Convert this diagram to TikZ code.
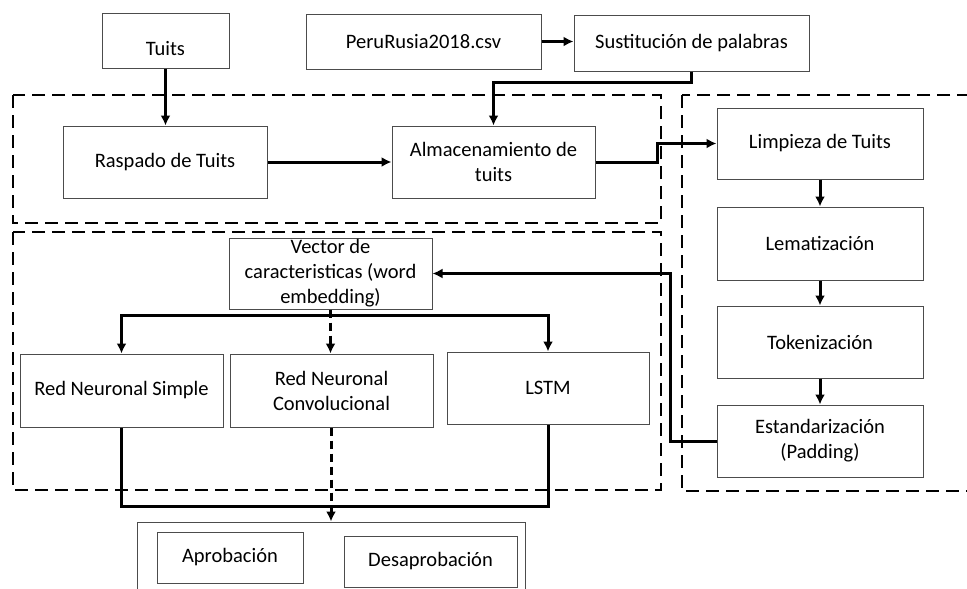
\documentclass[tikz,border=0pt]{standalone}
\usepackage{fontspec}
\setmainfont{Carlito}
\usetikzlibrary{arrows.meta, calc, positioning}

\tikzset{
  box/.style={draw=black!70, line width=1pt, align=center, inner sep=1pt,
    font=\fontsize{20.5}{25}\selectfont},
  flow/.style={line width=3pt, -{Latex[length=10pt,width=10pt]}},
  link/.style={line width=3pt},
  dashlink/.style={line width=3pt, dash pattern=on 8pt off 5pt},
  zone/.style={line width=2pt, dash pattern=on 13pt off 7pt},
}

\begin{document}
\begin{tikzpicture}[x=1pt, y=-1pt, >=Latex]

        \useasboundingbox (0,0) rectangle (967,589);
        \clip (0,0) rectangle (967,589);

        % dashed zones
        \draw[zone] (13,95) rectangle (661,223);
        \draw[zone] (13,232) rectangle (661,490);
        \draw[zone] (682,95) rectangle (1000,491);

        % input
        \node[box, minimum width=127pt, minimum height=55pt, text height=30pt] (tuits) at (165.5,40.5) {Tuits};
        \node[box, minimum width=235pt, minimum height=55pt] (peru) at (423.5,41.5) {PeruRusia2018.csv};
        \node[box, minimum width=235pt, minimum height=56pt] (sust) at (691.5,43) {Sustitución de palabras};

        \node[box, minimum width=204pt, minimum height=72pt] (raspado) at (165,162) {Raspado de Tuits};
        \node[box, minimum width=203pt, minimum height=72pt] (almac) at (493.5,162) {Almacenamiento de\\tuits};

        % preprocessing
        \node[box, minimum width=206pt, minimum height=71pt] (limpieza) at (820,143.5) {Limpieza de Tuits};
        \node[box, minimum width=206pt, minimum height=73pt] (lemat) at (820,243.5) {Lematización};
        \node[box, minimum width=206pt, minimum height=72pt] (token) at (820,342) {Tokenización};
        \node[box, minimum width=206pt, minimum height=72pt] (estand) at (820,441) {Estandarización\\(Padding)};

        % models
        \node[box, minimum width=203pt, minimum height=71pt, inner sep=0pt] (vector) at (330.5,273.5) {Vector de\\caracteristicas (word\\embedding)};
        \node[box, minimum width=203pt, minimum height=73pt] (rns) at (121.5,390.5) {Red Neuronal Simple};
        \node[box, minimum width=203pt, minimum height=73pt] (rnc) at (331.5,390.5) {Red Neuronal\\Convolucional};
        \node[box, minimum width=202pt, minimum height=72pt] (lstm) at (548,388) {LSTM};

        % output
        \node[draw=black!70, line width=1pt, minimum width=388pt, minimum height=100pt] (res) at (331,572) {};
        \node[box, minimum width=146pt, minimum height=51pt] (aprob) at (230,557.5) {Aprobación};
        \node[box, minimum width=173pt, minimum height=51pt] (desaprob) at (430.5,561.5) {Desaprobación};

        % connectors
        \draw[flow] (tuits.south) -- (tuits.south |- raspado.north);
        \draw[flow] (peru.east) -- (peru.east -| sust.west);
        \draw[flow] (sust.south) -- ++(0,11) -| (almac.north);
        \draw[flow] (raspado) -- (almac);
        \draw[flow] (almac.east) -- ++(62,0) |- (limpieza.west);
        \draw[flow] (limpieza) -- (lemat);
        \draw[flow] (lemat) -- (token);
        \draw[flow] (token) -- (estand);
        \draw[flow] (estand.west) -- ++(-46,0) |- (vector.east);

        \coordinate (split) at ($(vector.south)+(0,6)$);
        \draw[flow] (split) -| (rns.north);
        \draw[flow] (split) -| (lstm.north);
        \draw[dashlink, -{Latex[length=10pt,width=10pt]}] (vector.south) -- (vector.south |- rnc.north);

        \coordinate (merge) at ($(res.north)+(0,-15)$);
        \draw[link] (rns.south) |- (merge) -| (lstm.south);
        \draw[dashlink] (rnc.south) -- (rnc.south |- merge);
        \draw[flow] (merge) -- (res.north);

\end{tikzpicture}
\end{document}
